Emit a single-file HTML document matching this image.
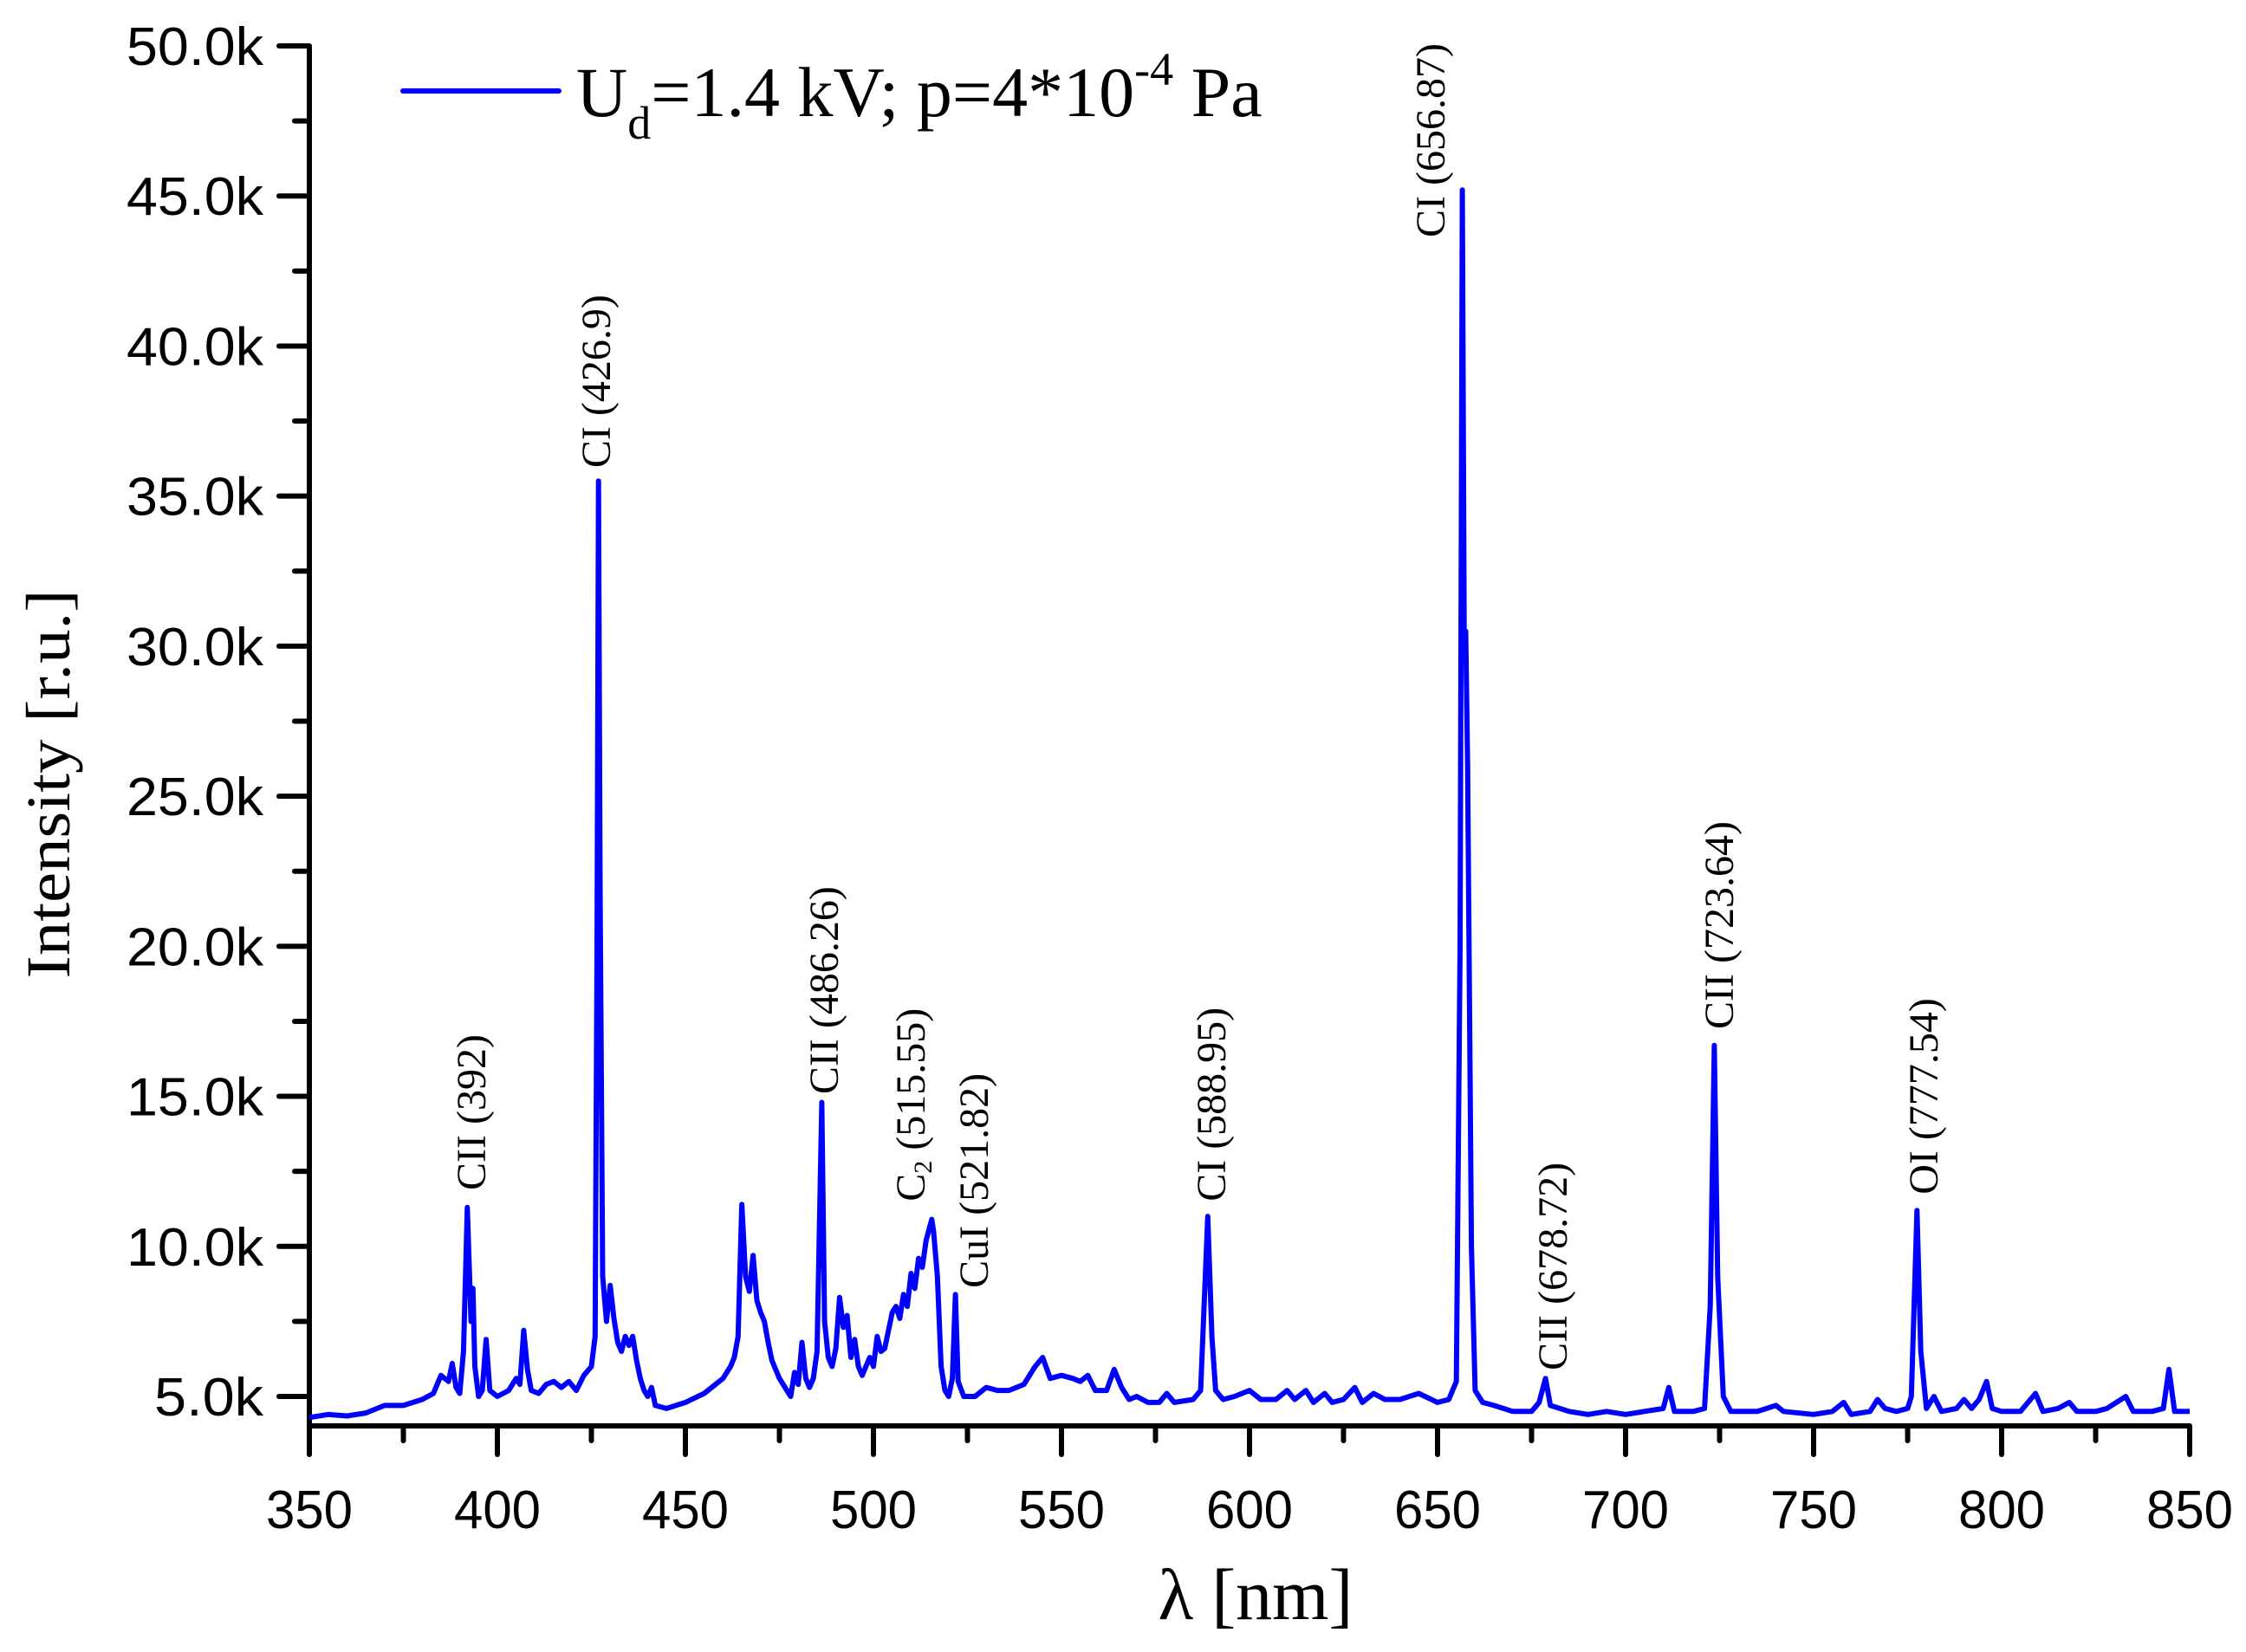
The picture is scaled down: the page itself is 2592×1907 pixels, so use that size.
<!DOCTYPE html>
<html><head><meta charset="utf-8"><style>
html,body{margin:0;padding:0;background:#fff}
svg{display:block}
</style></head><body>
<svg id="chart" xmlns="http://www.w3.org/2000/svg" width="2592" height="1907" viewBox="0 0 2592 1907">
<rect width="2592" height="1907" fill="#fff"/>
<g id="axes"></g>
<path id="series" fill="none" stroke="#0000ff" stroke-width="6" stroke-linejoin="round"/>
<g id="legend">
  <line x1="465" y1="105" x2="645" y2="105" stroke="#0000ff" stroke-width="6" stroke-linecap="round"/>
  <text x="665" y="134" font-family="Liberation Serif, serif" font-size="82" fill="#000">U<tspan font-size="54" dy="26">d</tspan><tspan dy="-26">=1.4 kV; p=4*10</tspan><tspan font-size="54" dy="-36">-4</tspan><tspan dy="36"> Pa</tspan></text>
</g>
<text x="1449" y="1869" text-anchor="middle" font-family="Liberation Serif, serif" font-size="84" fill="#000">λ [nm]</text>
<text transform="translate(80,905) rotate(-90)" text-anchor="middle" font-family="Liberation Serif, serif" font-size="72" textLength="449" lengthAdjust="spacingAndGlyphs" fill="#000">Intensity [r.u.]</text>
<g id="annotations"></g>
</svg>
<script>
const wavelengths = [350,355,360,365,370,375,380,383,385,387,388,389,390,391,392,393,393.5,394,395,396,397,398,400,403,405,406,407,408,409,411,413,415,417,419,421,423,425,426,426.5,426.9,427.3,428,429,430,431,432,433,434,435,436,437,438,439,440,441,442,445,450,455,458,460,462,463,464,465,466,467,468,469,470,471,472,473,475,477,478,479,480,481,482,483,484,485,486.26,487,488,489,490,491,492,493,494,495,496,497,499,500,501,502,503,505,506,507,508,509,510,511,512,513,514,515.5,516,517,518,519,520,521,521.8,522.5,524,527,530,533,536,540,543,545,547,550,553,555,557,559,562,564,566,568,570,573,576,578,580,585,587,588.9,590,591,593,596,600,603,607,610,612,615,617,620,622,625,628,630,633,636,640,645,650,653,655,656,656.6,657.1,657.5,658,659,660,662,665,670,675,677,678.7,680,685,690,695,700,705,710,711.5,713,718,721,722.5,723.6,724.5,726,728,735,740,742,750,755,758,760,765,767,769,772,775,776,777.5,778.5,780,782,784,788,790,792,794,796,797.5,800,805,809,811,815,818,820,825,828,833,835,840,843,844.5,846,850];
const intensities = [4300,4400,4350,4450,4700,4700,4900,5100,5700,5500,6100,5300,5100,6500,11300,7500,8600,6000,5000,5200,6900,5200,5000,5200,5600,5400,7200,5900,5200,5100,5400,5500,5300,5500,5200,5700,6000,7000,20000,35500,22000,9000,7500,8700,7600,6800,6500,7000,6700,7000,6200,5600,5200,5000,5300,4700,4600,4800,5100,5400,5600,6000,6300,7000,11400,9000,8500,9700,8200,7800,7500,6800,6200,5600,5200,5000,5800,5400,6800,5600,5300,5600,6500,14800,7500,6300,6000,6600,8300,7300,7700,6300,6900,6000,5700,6300,6000,7000,6500,6600,7800,8000,7600,8400,8000,9100,8600,9600,9300,10200,10900,10500,9000,6000,5200,5000,5600,8400,5500,5000,5000,5300,5200,5200,5400,6000,6300,5600,5700,5600,5500,5700,5200,5200,5900,5300,4900,5000,4800,4800,5100,4800,4900,5200,11000,7000,5200,4900,5000,5200,4900,4900,5200,4900,5200,4800,5100,4800,4900,5300,4800,5100,4900,4900,5100,4800,4900,5500,20000,45200,30000,30500,26000,10000,5200,4800,4700,4500,4500,4800,5600,4700,4500,4400,4500,4400,4500,4600,5300,4500,4500,4600,8000,16700,9000,5000,4500,4500,4700,4500,4400,4500,4800,4400,4500,4900,4600,4500,4600,5000,11200,6500,4600,5000,4500,4600,4900,4600,4900,5500,4600,4500,4500,5100,4500,4600,4800,4500,4500,4600,5000,4500,4500,4600,5900,4500,4500];
const xTicks = [350,400,450,500,550,600,650,700,750,800,850];
const yTicks = [5000,10000,15000,20000,25000,30000,35000,40000,45000,50000];
const yTickLabels = ["5.0k","10.0k","15.0k","20.0k","25.0k","30.0k","35.0k","40.0k","45.0k","50.0k"];
const annLabels = ["CII (392)","CI (426.9)","CII (486.26)","C2 (515.55)","CuI (521.82)","CI (588.95)","CI (656.87)","CII (678.72)","CII (723.64)","OI (777.54)"];
const annWavelengths = [394.5,427.6,488.2,511.3,528.1,591.2,649.5,682,726.3,780.6];
const annValues = [11870,35940,15070,11500,8610,11500,43620,5870,17240,11730];

const NS = "http://www.w3.org/2000/svg";
const X0=357, X1=2527, W0=350, W1=850;
const Y5=1612, Y50=53;
function xs(w){return X0+(w-W0)/(W1-W0)*(X1-X0);}
function ys(v){return Y5+(v-5000)/(45000)*(Y50-Y5);}
const AXY=1646;

const axes=document.getElementById('axes');
function mk(tag,attrs,parent){const e=document.createElementNS(NS,tag);for(const k in attrs)e.setAttribute(k,attrs[k]);parent.appendChild(e);return e;}

const xa=mk('line',{x1:X0,y1:AXY,x2:X1,y2:AXY,stroke:'#000','stroke-width':6},axes);


const ya=mk('line',{x1:X0,y1:AXY,x2:X0,y2:Y50,stroke:'#000','stroke-width':6},axes);



xTicks.forEach((t,i)=>{
  const x=xs(t);
  const l=mk('line',{x1:x,y1:AXY,x2:x,y2:AXY+33,stroke:'#000','stroke-width':6,'stroke-linecap':'round'},axes);
  
  
  const tx=mk('text',{x:x,y:1764,'text-anchor':'middle','font-family':'Liberation Sans, sans-serif','font-size':62,textLength:100,lengthAdjust:'spacingAndGlyphs',fill:'#000'},axes);
  tx.textContent=t;
  
  
  if(i<xTicks.length-1){
    const mx=xs(t+25);
    const m=mk('line',{x1:mx,y1:AXY,x2:mx,y2:AXY+17,stroke:'#000','stroke-width':6,'stroke-linecap':'round'},axes);
    
    
  }
});
yTicks.forEach((t,i)=>{
  const y=ys(t);
  const l=mk('line',{x1:X0,y1:y,x2:X0-35,y2:y,stroke:'#000','stroke-width':6,'stroke-linecap':'round'},axes);
  
  
  const lab=yTickLabels[i];
  const tx=mk('text',{x:304,y:y+22,'text-anchor':'end','font-family':'Liberation Sans, sans-serif','font-size':62,textLength:(lab.length===4?126:158),lengthAdjust:'spacingAndGlyphs',fill:'#000'},axes);
  tx.textContent=lab;
  
  
  if(i<yTicks.length-1){
    const my=ys(t+2500);
    const m=mk('line',{x1:X0,y1:my,x2:X0-17,y2:my,stroke:'#000','stroke-width':6,'stroke-linecap':'round'},axes);
    
    
  }
});

let d='';
wavelengths.forEach((w,i)=>{d+=(i?'L':'M')+xs(w).toFixed(1)+','+ys(intensities[i]).toFixed(1);});
document.getElementById('series').setAttribute('d',d);

const ann=document.getElementById('annotations');
annLabels.forEach((lab,i)=>{
  const x=xs(annWavelengths[i])+10, y=ys(annValues[i]);
  const t=mk('text',{transform:`translate(${x.toFixed(1)},${y.toFixed(1)}) rotate(-90)`,'font-family':'Liberation Serif, serif','font-size':48,fill:'#000'},ann);
  if(lab.startsWith('C2')){
    t.innerHTML='C<tspan font-size="30" dy="8">2</tspan><tspan dy="-8"> (515.55)</tspan>';
  } else t.textContent=lab;
  
  
});
</script>
</body></html>
